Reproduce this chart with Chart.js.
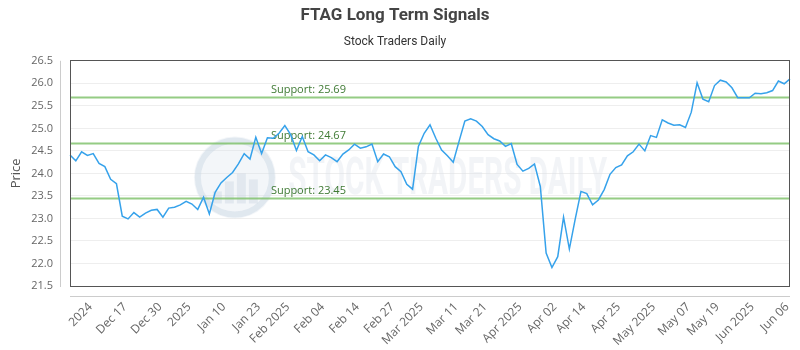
<!DOCTYPE html>
<html>
<head>
<meta charset="utf-8">
<title>FTAG Long Term Signals</title>
<script src="https://cdn.jsdelivr.net/npm/chart.js@4.4.1/dist/chart.umd.min.js"></script>
<style>
  html, body { margin: 0; padding: 0; background: #fff; }
  #wrap { width: 800px; height: 350px; }
</style>
</head>
<body>
<div id="wrap"><canvas id="chart"></canvas></div>
<script>
// Daily closing prices, Dec 2024 - Jun 2025
const prices = [
  24.41, 24.28, 24.48, 24.40, 24.44, 24.22, 24.15, 23.87, 23.77, 23.05,
  22.99, 23.13, 23.03, 23.12, 23.18, 23.20, 23.03, 23.23, 23.25, 23.30,
  23.38, 23.32, 23.20, 23.47, 23.10, 23.58, 23.79, 23.91, 24.02, 24.21,
  24.44, 24.32, 24.80, 24.44, 24.79, 24.78, 24.89, 25.06, 24.86, 24.51,
  24.82, 24.48, 24.41, 24.28, 24.41, 24.35, 24.26, 24.43, 24.52, 24.65,
  24.56, 24.59, 24.65, 24.26, 24.43, 24.37, 24.15, 24.04, 23.76, 23.65,
  24.60, 24.89, 25.08, 24.78, 24.52, 24.39, 24.25, 24.71, 25.16, 25.21,
  25.16, 25.04, 24.86, 24.77, 24.72, 24.60, 24.66, 24.20, 24.05, 24.11,
  24.21, 23.71, 22.23, 21.91, 22.15, 23.03, 22.32, 22.98, 23.60, 23.55,
  23.30, 23.41, 23.64, 23.98, 24.13, 24.19, 24.39, 24.48, 24.65, 24.50,
  24.84, 24.80, 25.19, 25.12, 25.07, 25.08, 25.02, 25.36, 26.01, 25.65,
  25.59, 25.95, 26.07, 26.03, 25.90, 25.68, 25.68, 25.68, 25.78, 25.77,
  25.79, 25.84, 26.05, 25.99, 26.10
];

// x axis tick labels and the point index each one sits on
const tickLabels = [
  "2024", "Dec 17", "Dec 30", "2025", "Jan 10", "Jan 23", "Feb 2025", "Feb 04",
  "Feb 14", "Feb 27", "Mar 2025", "Mar 11", "Mar 21", "Apr 2025", "Apr 02",
  "Apr 14", "Apr 25", "May 2025", "May 07", "May 19", "Jun 2025", "Jun 06"
];
const tickIndex = [
  3, 9, 15, 20, 26, 32, 37, 43, 49, 55, 60,
  66, 71, 77, 83, 88, 94, 100, 106, 111, 117, 123
];

// support levels
const supportLevels = [25.69, 24.67, 23.45];

const TICK_FONT = "'Open Sans', 'DejaVu Sans', sans-serif";

// Draw watermark, support lines, plot frame and offset axis lines
const decorPlugin = {
  id: "decor",
  beforeDatasetsDraw(chart) {
    const { ctx, chartArea: a, scales } = chart;
    const w = a.right - a.left;
    const h = a.bottom - a.top;
    ctx.save();

    // faint logo watermark
    const cx = a.left + w * 0.229;
    const cy = a.top + h * 0.518;
    const r = 41;
    ctx.fillStyle = "rgba(215, 225, 235, 0.3)";
    ctx.beginPath();
    ctx.arc(cx, cy, r, 0, Math.PI * 2);
    ctx.fill();
    ctx.strokeStyle = "rgba(205, 218, 230, 0.5)";
    ctx.lineWidth = 6;
    ctx.beginPath();
    ctx.arc(cx, cy, r - 4, 0, Math.PI * 2);
    ctx.stroke();
    ctx.fillStyle = "rgba(200, 212, 225, 0.4)";
    [[-22, 12], [-10, 22], [2, 30], [14, 24]].forEach(([dx, bh]) => {
      ctx.fillRect(cx + dx, cy + 26 - bh, 9, bh);
    });
    ctx.fillStyle = "rgba(220, 226, 233, 0.38)";
    ctx.font = "bold 52px 'Roboto', sans-serif";
    ctx.textBaseline = "alphabetic";
    ctx.textAlign = "left";
    ctx.fillText("STOCK TRADERS DAILY", a.left + w * 0.303, a.top + h * 0.593, w * 0.443);

    // support lines with labels
    supportLevels.forEach((level) => {
      const y = Math.round(scales.y.getPixelForValue(level)) + 0.5;
      ctx.strokeStyle = "rgba(130, 195, 110, 0.85)";
      ctx.lineWidth = 2;
      ctx.beginPath();
      ctx.moveTo(a.left + 1, y);
      ctx.lineTo(a.right - 1, y);
      ctx.stroke();
      ctx.fillStyle = "#3f7a34";
      ctx.font = "11px " + TICK_FONT;
      ctx.textAlign = "left";
      ctx.textBaseline = "bottom";
      ctx.fillText("Support: " + level.toFixed(2), a.left + w * 0.279, y - 2);
    });

    // light axis lines set off from the plot frame
    ctx.strokeStyle = "#ccc";
    ctx.lineWidth = 1;
    ctx.beginPath();
    ctx.moveTo(Math.round(a.left) - 9.5, a.top);
    ctx.lineTo(Math.round(a.left) - 9.5, a.bottom + 1);
    ctx.moveTo(a.left, Math.round(a.bottom) + 10.5);
    ctx.lineTo(a.right, Math.round(a.bottom) + 10.5);
    ctx.stroke();

    ctx.restore();
  },
  afterDatasetsDraw(chart) {
    // dark frame round the plot area
    const { ctx, chartArea: a } = chart;
    ctx.save();
    ctx.strokeStyle = "#555";
    ctx.lineWidth = 1;
    ctx.strokeRect(
      Math.round(a.left) + 0.5,
      Math.round(a.top) - 0.5,
      Math.round(a.right - a.left) - 1,
      Math.round(a.bottom - a.top) + 1
    );
    ctx.restore();
  },
};

const ctx = document.getElementById("chart").getContext("2d");

new Chart(ctx, {
  type: "line",
  data: {
    labels: prices.map((_, i) => i),
    datasets: [
      {
        label: "FTAG",
        data: prices,
        borderColor: "rgb(54, 162, 235)",
        backgroundColor: "rgb(54, 162, 235)",
        borderWidth: 1.5,
        pointRadius: 0,
        tension: 0,
        fill: false,
      },
    ],
  },
  options: {
    responsive: true,
    maintainAspectRatio: false,
    animation: false,
    layout: {
      padding: { left: 0, right: 10, top: 2, bottom: 0 },
    },
    plugins: {
      legend: { display: false },
      tooltip: { enabled: false },
      title: {
        display: true,
        text: "FTAG Long Term Signals",
        color: "#444",
        font: { family: "'Roboto', sans-serif", size: 17, weight: "bold" },
        padding: { top: 4, bottom: 8 },
      },
      subtitle: {
        display: true,
        text: "Stock Traders Daily",
        color: "#333",
        font: { family: "'Roboto', sans-serif", size: 12 },
        padding: { top: 0, bottom: 12 },
      },
    },
    scales: {
      x: {
        grid: { display: false, drawTicks: false },
        border: { display: false },
        afterFit: (scale) => {
          scale.height = 64;
          scale.paddingLeft = 0;
          scale.paddingRight = 0;
        },
        ticks: {
          autoSkip: false,
          maxRotation: 45,
          minRotation: 45,
          padding: 14,
          labelOffset: 3,
          color: "#666",
          font: { family: TICK_FONT, size: 12 },
          callback: function (value, index) {
            const k = tickIndex.indexOf(index);
            return k >= 0 ? tickLabels[k] : null;
          },
        },
      },
      y: {
        min: 21.5,
        max: 26.5,
        grid: { color: "#eee", drawTicks: false },
        border: { display: false },
        afterFit: (scale) => {
          scale.width = 70;
        },
        title: {
          display: true,
          text: "Price",
          color: "#555",
          font: { family: TICK_FONT, size: 13 },
          padding: { top: 8, bottom: 4 },
        },
        ticks: {
          stepSize: 0.5,
          padding: 17,
          color: "#666",
          font: { family: TICK_FONT, size: 11 },
          callback: (v) => v.toFixed(1),
        },
      },
    },
  },
  plugins: [decorPlugin],
});
</script>
</body>
</html>
